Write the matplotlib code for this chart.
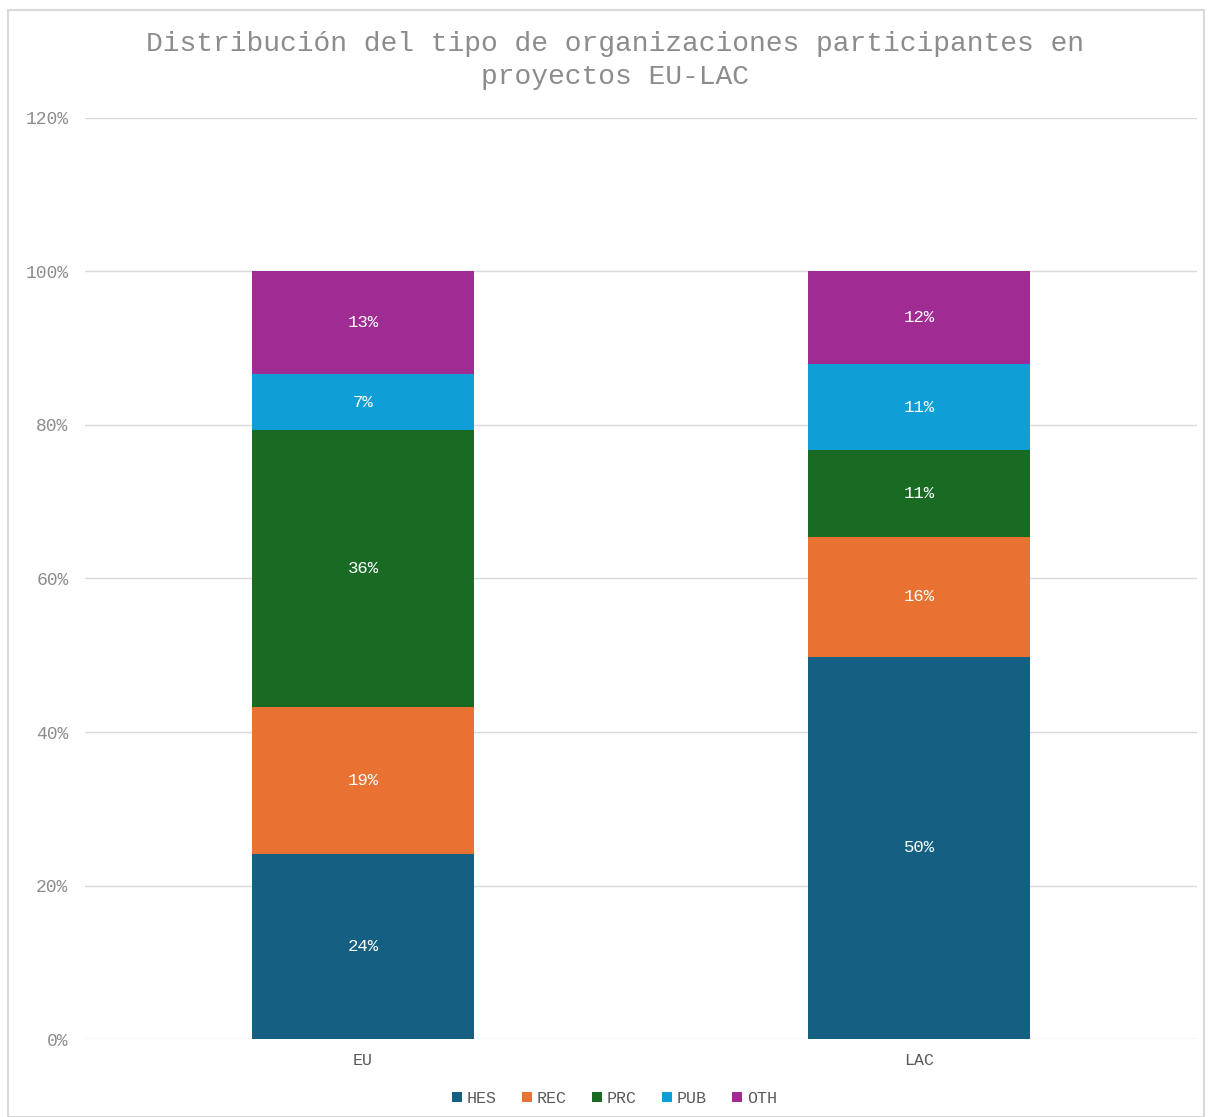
import numpy as np
import matplotlib.pyplot as plt
from matplotlib.patches import Rectangle
from matplotlib.ticker import FuncFormatter

regions = ["EU", "LAC"]
series = ["HES", "REC", "PRC", "PUB", "OTH"]
hes = [24.1, 49.8]
rec = [19.2, 15.6]
prc = [36.0, 11.3]
pub = [7.3, 11.2]
oth = [13.4, 12.1]
colors = ["#156082", "#E97132", "#196B24", "#0F9ED5", "#A02B93"]

plt.rcParams['font.family'] = ['Liberation Mono', 'DejaVu Sans Mono']

fig = plt.figure(figsize=(12.08, 11.17), dpi=100)
ax = fig.add_axes([0.0704, 0.0698, 0.9205, 0.8246])

# borde del grafico
fig.patches.append(Rectangle((0.007, 0.0), 0.99, 0.991, transform=fig.transFigure,
                             fill=False, edgecolor="#d9d9d9", linewidth=1.5))

x = np.arange(len(regions))
bottom = np.zeros(len(regions))
for name, vals, c in zip(series, [hes, rec, prc, pub, oth], colors):
    vals = np.array(vals)
    ax.bar(x, vals, 0.4, bottom=bottom, color=c, label=name, zorder=3)
    for xi, b, v in zip(x, bottom, vals):
        ax.text(xi, b + v / 2, f"{v:.0f}%", ha='center', va='center',
                color='white', fontsize=12.5, zorder=4)
    bottom += vals

ax.set_xlim(-0.5, 1.5)
ax.set_ylim(0, 120)
ax.set_yticks(range(0, 121, 20))
ax.yaxis.set_major_formatter(FuncFormatter(lambda v, p: f"{v:.0f}%"))
ax.set_xticks(x)
ax.set_xticklabels(regions)
ax.grid(axis='y', color='#d9d9d9', linewidth=1, zorder=0)
for s in ax.spines.values():
    s.set_visible(False)
ax.tick_params(length=0, colors='#8c8c8c', labelsize=13)
ax.tick_params(axis='y', pad=12)
ax.tick_params(axis='x', pad=10, colors='#595959', labelsize=12)

fig.text(0.509, 0.946, "Distribución del tipo de organizaciones participantes en\nproyectos EU-LAC",
         ha='center', va='center', fontsize=20.2, color='#8c8c8c', linespacing=1.35)

leg = ax.legend(loc='upper center', bbox_to_anchor=(0.476, -0.04), ncol=5, frameon=False,
                handlelength=0.6, handleheight=0.6, handletextpad=0.3, columnspacing=1.5,
                fontsize=12)
for t in leg.get_texts():
    t.set_color('#595959')

fig.savefig("out.png", dpi=100)
